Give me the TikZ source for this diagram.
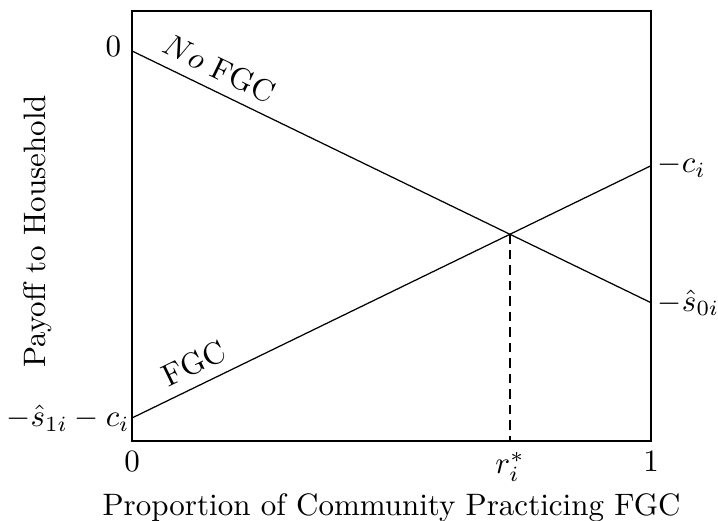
\documentclass[tikz,border=0pt]{standalone}
\usetikzlibrary{positioning,calc}

\begin{document}
\begin{tikzpicture}[every node/.style={font=\normalsize},
    payoff/.style={line width=0.4pt},
    ticklbl/.style={inner sep=3.33pt},
    sidelbl/.style={inner xsep=2pt}]
  \useasboundingbox (-1.497,-0.907) rectangle (6.645,5.001);
  % frame
  \coordinate (o) at (0,0);
  \coordinate (br) at (5.886,0);
  \coordinate (tr) at (5.886,4.876);
  \draw (o) rectangle (tr);
  % payoff lines
  \coordinate (n0) at (0,4.423);
  \coordinate (n1) at (5.886,1.568);
  \coordinate (f0) at (0,0.261);
  \coordinate (f1) at (5.886,3.122);
  \draw[payoff] (n0) -- node[pos=0.149, above, sloped] (lblno) {$No$ FGC} (n1);
  \draw[payoff] (f0) -- node[pos=0.138, above, sloped] (lblfgc) {FGC} (f1);
  \coordinate (eq) at (intersection of n0--n1 and f0--f1);
  \coordinate (eqx) at (eq |- o);
  \draw[dash pattern=on 3pt off 2pt] (eq) -- (eqx);
  % axis values
  \node[ticklbl, left, yshift=1.5pt] (y0) at (n0) {$0$};
  \node[sidelbl, left, inner xsep=0.6pt] (yfgc) at (f0) {$-\hat{s}_{1i}-c_i$};
  \node[sidelbl, right] (yc) at (f1) {$-c_i$};
  \node[sidelbl, right] (ys) at (n1) {$-\hat{s}_{0i}$};
  \node[ticklbl, below] (x0) at (o) {$0$};
  \node[ticklbl, below] (xr) at (eqx) {$r_i^*$};
  \node[ticklbl, below] (x1) at (br) {$1$};
  % axis titles
  \coordinate (xmid) at ($(o)!0.5!(br)$);
  \node[below=0.47cm of xmid] (xlab) {Proportion of Community Practicing FGC};
  \node[rotate=90] (ylab) at (-1.07,2.38) {Payoff to Household};
\end{tikzpicture}
\end{document}
